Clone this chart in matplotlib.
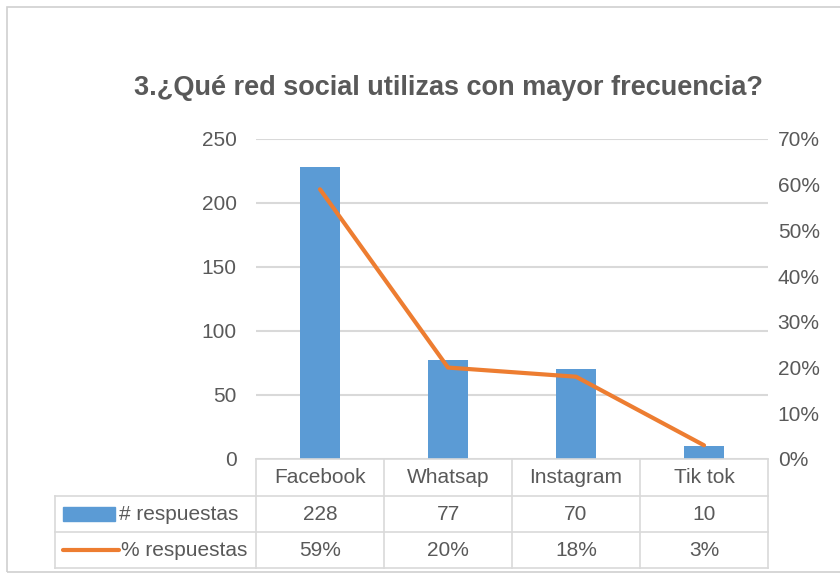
import matplotlib
matplotlib.use("Agg")
import matplotlib.pyplot as plt
from matplotlib.patches import Rectangle
from matplotlib.lines import Line2D
import numpy as np

categorias = ["Facebook", "Whatsap", "Instagram", "Tik tok"]
respuestas = [228, 77, 70, 10]
porcentajes = [0.59, 0.20, 0.18, 0.03]
pct_labels = ["59%", "20%", "18%", "3%"]
serie_nombres = ["# respuestas", "% respuestas"]

azul = "#5B9BD5"
naranja = "#ED7D31"
gris_txt = "#595959"
gris_lin = "#D9D9D9"

plt.rcParams['font.family'] = ['Liberation Sans', 'DejaVu Sans']

W, H = 840, 581
fig = plt.figure(figsize=(8.4, 5.81), dpi=100)

def fx(px):
    return px / W

def fy(py):
    return 1 - py / H

# chart border
fig.patches.append(Rectangle((fx(7), fy(572)), fx(850) - fx(7), fy(7) - fy(572),
                             transform=fig.transFigure, fill=False, edgecolor="#D0D0D0", lw=1.2))

ax = fig.add_axes([fx(256), fy(459), fx(768) - fx(256), fy(139) - fy(459)])
x = np.arange(len(categorias))
ax.bar(x, respuestas, width=0.31, color=azul, zorder=2)
ax.set_xlim(-0.5, len(categorias) - 0.5)
ax.set_ylim(0, 250)
ax.set_yticks(range(0, 251, 50))
ax.grid(axis="y", color=gris_lin, lw=1.5, zorder=0)
ax.set_axisbelow(True)
for s in ax.spines.values():
    s.set_visible(False)
ax.tick_params(axis="y", length=0, pad=14, labelsize=15, labelcolor=gris_txt)
ax.set_xticks([])

ax2 = ax.twinx()
ax2.plot(x, porcentajes, color=naranja, lw=3, solid_capstyle="round", zorder=3)
ax2.set_ylim(0, 0.70)
ax2.set_yticks(np.arange(0, 0.71, 0.1))
ax2.set_yticklabels([f"{int(round(v*100))}%" for v in np.arange(0, 0.71, 0.1)])
for s in ax2.spines.values():
    s.set_visible(False)
ax2.tick_params(axis="y", length=0, pad=7, labelsize=15, labelcolor=gris_txt)

fig.text(0.5 * (fx(133) + fx(765)), fy(88), "3.¿Qué red social utilizas con mayor frecuencia?",
         ha="center", va="center", fontsize=19.5, fontweight="bold", color=gris_txt)

# data table
filas_y = [459, 496, 532, 568]
col_x = [256 + 128 * i for i in range(len(categorias) + 1)]
left_x = 55
lk = dict(transform=fig.transFigure, color=gris_lin, lw=1.2)
# horizontal lines
fig.lines.append(Line2D([fx(col_x[0]), fx(col_x[-1])], [fy(filas_y[0])] * 2, **lk))
for yy in filas_y[1:]:
    fig.lines.append(Line2D([fx(left_x), fx(col_x[-1])], [fy(yy)] * 2, **lk))
# vertical lines
for xx in col_x:
    fig.lines.append(Line2D([fx(xx)] * 2, [fy(filas_y[0]), fy(filas_y[-1])], **lk))
fig.lines.append(Line2D([fx(left_x)] * 2, [fy(filas_y[1]), fy(filas_y[-1])], **lk))

tk = dict(fontsize=15, color=gris_txt, ha="center", va="center")
for i, cat in enumerate(categorias):
    cx = 0.5 * (col_x[i] + col_x[i + 1])
    fig.text(fx(cx), fy(0.5 * (filas_y[0] + filas_y[1])), cat, **tk)
    fig.text(fx(cx), fy(0.5 * (filas_y[1] + filas_y[2])), str(respuestas[i]), **tk)
    fig.text(fx(cx), fy(0.5 * (filas_y[2] + filas_y[3])), pct_labels[i], **tk)

# legend keys
y1 = 0.5 * (filas_y[1] + filas_y[2])
y2 = 0.5 * (filas_y[2] + filas_y[3])
fig.patches.append(Rectangle((fx(63), fy(y1 + 7)), fx(115) - fx(63), fy(y1 - 7) - fy(y1 + 7),
                             transform=fig.transFigure, color=azul))
fig.lines.append(Line2D([fx(63), fx(119)], [fy(y2)] * 2, transform=fig.transFigure,
                        color=naranja, lw=3, solid_capstyle="round"))
fig.text(fx(119), fy(y1), serie_nombres[0], fontsize=15, color=gris_txt, ha="left", va="center")
fig.text(fx(121), fy(y2), serie_nombres[1], fontsize=15, color=gris_txt, ha="left", va="center")

fig.savefig("out.png", dpi=100)
